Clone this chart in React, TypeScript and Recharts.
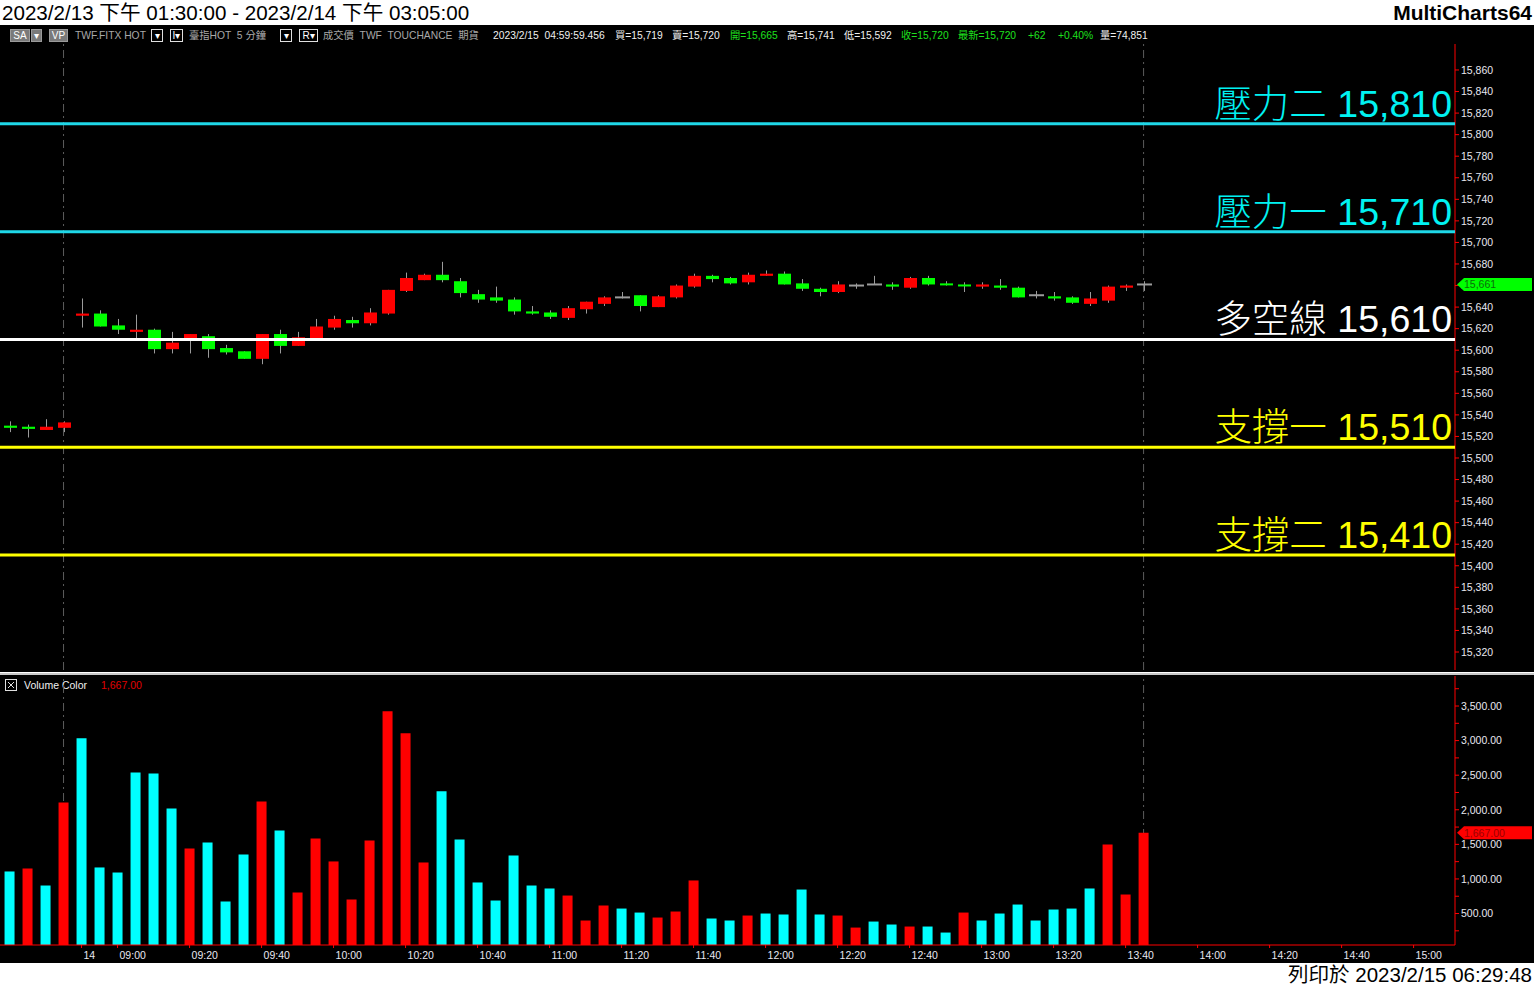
import React from "react";
import { Bar, Cell, ComposedChart, ReferenceLine, XAxis, YAxis } from "recharts";

// 5-minute bars: last four of the 2/13 night session, then the 2/14 day session
const barTimes = [
  "04:45", "04:50", "04:55", "05:00",
  "08:50", "08:55", "09:00", "09:05", "09:10", "09:15", "09:20", "09:25",
  "09:30", "09:35", "09:40", "09:45", "09:50", "09:55", "10:00", "10:05",
  "10:10", "10:15", "10:20", "10:25", "10:30", "10:35", "10:40", "10:45",
  "10:50", "10:55", "11:00", "11:05", "11:10", "11:15", "11:20", "11:25",
  "11:30", "11:35", "11:40", "11:45", "11:50", "11:55", "12:00", "12:05",
  "12:10", "12:15", "12:20", "12:25", "12:30", "12:35", "12:40", "12:45",
  "12:50", "12:55", "13:00", "13:05", "13:10", "13:15", "13:20", "13:25",
  "13:30", "13:35", "13:40", "13:45",
];

const opens = [
  15530, 15529, 15526, 15528, 15632, 15634, 15623, 15617, 15619, 15601,
  15610, 15613, 15602, 15599, 15592, 15615, 15604, 15611, 15621, 15628,
  15625, 15634, 15655, 15665, 15670, 15664, 15652, 15649, 15647, 15636,
  15635, 15630, 15638, 15643, 15649, 15651, 15640, 15649, 15659, 15669,
  15667, 15663, 15669, 15671, 15662, 15657, 15654, 15660, 15661, 15661,
  15658, 15667, 15662, 15661, 15659, 15660, 15658, 15651, 15650, 15649,
  15643, 15646, 15658, 15661,
];
const highs = [
  15534, 15531, 15536, 15534, 15648, 15637, 15629, 15633, 15620, 15617,
  15615, 15615, 15605, 15599, 15615, 15619, 15617, 15629, 15632, 15631,
  15639, 15656, 15672, 15671, 15682, 15667, 15656, 15659, 15649, 15641,
  15637, 15641, 15645, 15650, 15654, 15651, 15651, 15661, 15671, 15670,
  15668, 15672, 15674, 15673, 15666, 15658, 15664, 15662, 15669, 15663,
  15668, 15669, 15664, 15663, 15663, 15666, 15659, 15655, 15654, 15650,
  15654, 15660, 15661, 15664,
];
const lows = [
  15524, 15519, 15526, 15524, 15621, 15622, 15615, 15610, 15597, 15597,
  15597, 15593, 15596, 15592, 15587, 15597, 15604, 15611, 15619, 15621,
  15623, 15633, 15654, 15665, 15663, 15649, 15644, 15644, 15633, 15633,
  15629, 15628, 15634, 15641, 15648, 15636, 15640, 15648, 15658, 15663,
  15661, 15661, 15669, 15661, 15655, 15650, 15653, 15657, 15661, 15656,
  15657, 15660, 15660, 15654, 15657, 15656, 15649, 15648, 15646, 15643,
  15641, 15644, 15655, 15655,
];
const closes = [
  15528, 15527, 15529, 15533, 15634, 15622, 15619, 15619, 15601, 15607,
  15615, 15601, 15598, 15592, 15615, 15604, 15612, 15622, 15629, 15625,
  15635, 15656, 15667, 15670, 15665, 15653, 15647, 15646, 15636, 15634,
  15631, 15639, 15645, 15649, 15649, 15641, 15650, 15660, 15669, 15666,
  15662, 15670, 15671, 15661, 15657, 15654, 15661, 15660, 15661, 15659,
  15667, 15661, 15661, 15660, 15661, 15658, 15649, 15651, 15648, 15644,
  15648, 15659, 15660, 15661,
];

const volumes = [
  1108, 1151, 905, 2106, 3033, 1166, 1093, 2540, 2526, 2020,
  1441, 1527, 674, 1354, 2121, 1701, 804, 1585, 1253, 703,
  1556, 3423, 3105, 1238, 2266, 1571, 949, 688, 1339, 905,
  862, 760, 399, 616, 572, 514, 442, 529, 978, 428,
  399, 471, 500, 486, 847, 486, 471, 297, 384, 341,
  312, 312, 225, 514, 399, 500, 630, 399, 558, 572,
  862, 1499, 775, 1667,
];
// 1 = red (up) volume, 0 = cyan
const volumeUp = [
  0, 1, 0, 1, 0, 0, 0, 0, 0, 0,
  1, 0, 0, 0, 1, 0, 1, 1, 1, 1,
  1, 1, 1, 1, 0, 0, 0, 0, 0, 0,
  0, 1, 1, 1, 0, 0, 1, 1, 1, 0,
  0, 1, 0, 0, 0, 0, 1, 1, 0, 0,
  1, 0, 0, 1, 0, 0, 0, 0, 0, 0,
  0, 1, 1, 1,
];

const levelPrices = [15810, 15710, 15610, 15510, 15410];
const levelNames = ["壓力二", "壓力一", "多空線", "支撐一", "支撐二"];

const timeTickIndex = [4, 6, 10, 14, 18, 22, 26, 30, 34, 38, 42, 46, 50, 54, 58, 62, 66, 70, 74, 78];
const timeTickLabels = [
  "14", "09:00", "09:20", "09:40", "10:00", "10:20", "10:40", "11:00", "11:20", "11:40",
  "12:00", "12:20", "12:40", "13:00", "13:20", "13:40", "14:00", "14:20", "14:40", "15:00",
];

const priceTicks = [
  15320, 15340, 15360, 15380, 15400, 15420, 15440, 15460, 15480, 15500,
  15520, 15540, 15560, 15580, 15600, 15620, 15640, 15660, 15680, 15700,
  15720, 15740, 15760, 15780, 15800, 15820, 15840, 15860,
];
const volumeTicks = [250, 500, 750, 1000, 1250, 1500, 1750, 2000, 2250, 2500, 2750, 3000, 3250, 3500, 3750];

// session break and the last bar
const markerBars = [3, 63];

const RED = "#ff0000";
const GREEN = "#00ff00";
const CYAN = "#00ffff";
const WICK = "#9b9b9b";
const AXIS = "#ff0000";
const LABEL = "#e8e8f0";
const FONT = "'Liberation Sans', Arial, 'Noto Sans CJK TC', sans-serif";
const levelColors = ["#1fd8e8", "#1fd8e8", "#ffffff", "#ffff00", "#ffff00"];
const levelTextColors = ["#00f2f2", "#00f2f2", "#ffffff", "#ffff00", "#ffff00"];

const X_DOMAIN: [number, number] = [-0.53, 80.3];

const priceRows = barTimes.map((time, i) => ({
  i,
  time,
  open: opens[i],
  high: highs[i],
  low: lows[i],
  close: closes[i],
  range: [lows[i], highs[i]],
}));

const volumeRows = barTimes.map((time, i) => ({
  i,
  time,
  volume: volumes[i],
  up: volumeUp[i] === 1,
}));

const lastClose = closes[closes.length - 1];
const lastVolume = volumes[volumes.length - 1];

function Candle(props: any) {
  const { x, y, width, height, payload } = props;
  if (!payload || !Number.isFinite(x) || !Number.isFinite(y)) return <g />;
  const top = Math.min(y, y + height);
  const bottom = Math.max(y, y + height);
  const span = payload.high - payload.low;
  const k = span > 0 ? (bottom - top) / span : 0;
  const toY = (v: number) => top + (payload.high - v) * k;
  const cx = Math.round(x + width / 2);
  const yo = toY(payload.open);
  const yc = toY(payload.close);

  let body;
  if (payload.open === payload.close) {
    body = <line x1={cx - 7} x2={cx + 8} y1={yo} y2={yo} stroke={WICK} strokeWidth={2} />;
  } else {
    const up = payload.close > payload.open;
    const h = Math.max(Math.abs(yo - yc), 2);
    body = (
      <rect
        x={cx - 6}
        y={Math.min(yo, yc)}
        width={13}
        height={h}
        fill={up ? RED : GREEN}
      />
    );
  }

  return (
    <g>
      <line x1={cx + 0.5} x2={cx + 0.5} y1={top} y2={bottom} stroke={WICK} strokeWidth={1} />
      {body}
    </g>
  );
}

function LevelLabel(props: any) {
  const { viewBox, text, color } = props;
  if (!viewBox) return null;
  return (
    <text
      x={viewBox.x + viewBox.width - 3}
      y={viewBox.y - 7}
      textAnchor="end"
      fill={color}
      fontSize={37.5}
      fontWeight={300}
      fontFamily={FONT}
    >
      {text}
    </text>
  );
}

function AxisTag(props: any) {
  const { viewBox, text, fill, textColor } = props;
  if (!viewBox) return null;
  const x = viewBox.x + viewBox.width;
  const y = viewBox.y;
  const half = 6.5;
  const points = [
    [x + 2, y],
    [x + 9, y - half],
    [x + 77, y - half],
    [x + 77, y + half],
    [x + 9, y + half],
  ]
    .map(p => p.join(","))
    .join(" ");
  return (
    <g>
      <polygon points={points} fill={fill} />
      <text x={x + 9} y={y + 4} fill={textColor} fontSize={10.5} fontFamily={FONT}>
        {text}
      </text>
    </g>
  );
}

function TimeTick(props: any) {
  const { x, y, payload } = props;
  const idx = timeTickIndex.indexOf(payload.value);
  return (
    <text x={x + 2} y={y + 11} fill={LABEL} fontSize={10.5} fontFamily={FONT} textAnchor="start">
      {idx >= 0 ? timeTickLabels[idx] : ""}
    </text>
  );
}

function HeaderBox({ left, width, text, filled }: { left: number; width: number; text: string; filled?: boolean }) {
  return (
    <div
      style={{
        position: "absolute",
        left,
        top: 29,
        width,
        height: 13,
        boxSizing: "border-box",
        border: filled ? "1px solid #9a9a9a" : "1px solid #e0e0e0",
        background: filled ? "#7a7a7a" : "transparent",
        color: "#ffffff",
        fontSize: 10,
        lineHeight: "11px",
        textAlign: "center",
      }}
    >
      {text}
    </div>
  );
}

function HeaderText({ left, text, color }: { left: number; text: string; color: string }) {
  return (
    <div
      style={{
        position: "absolute",
        left,
        top: 29,
        height: 13,
        lineHeight: "13px",
        fontSize: 10.3,
        color,
        whiteSpace: "pre",
      }}
    >
      {text}
    </div>
  );
}

const GRAY_TXT = "#a8a8a8";
const WHITE_TXT = "#f0f0f0";
const GREEN_TXT = "#1ee01e";

export default function App() {
  return (
    <div
      style={{
        position: "absolute",
        left: 0,
        top: 0,
        width: 1534,
        height: 986,
        background: "#ffffff",
        fontFamily: FONT,
        overflow: "hidden",
      }}
    >
      {/* title bar */}
      <div style={{ position: "absolute", left: 2, top: 0, height: 25, lineHeight: "25px", fontSize: 20.6, color: "#000" }}>
        2023/2/13 下午 01:30:00 - 2023/2/14 下午 03:05:00
      </div>
      <div
        style={{
          position: "absolute",
          right: 2,
          top: 0,
          height: 25,
          lineHeight: "25px",
          fontSize: 21,
          fontWeight: 700,
          color: "#000",
        }}
      >
        MultiCharts64
      </div>

      {/* black chart area */}
      <div style={{ position: "absolute", left: 0, top: 25, width: 1534, height: 938, background: "#000" }} />

      {/* status line */}
      <HeaderBox left={10} width={20} text="SA" filled />
      <HeaderBox left={31} width={11} text="▾" filled />
      <HeaderBox left={49} width={19} text="VP" filled />
      <HeaderText left={75} text="TWF.FITX HOT" color={GRAY_TXT} />
      <HeaderBox left={151} width={12} text="▾" />
      <HeaderBox left={170} width={13} text="I▾" />
      <HeaderText left={189} text="臺指HOT  5 分鐘" color={GRAY_TXT} />
      <HeaderBox left={280} width={12} text="▾" />
      <HeaderBox left={299} width={19} text="R▾" />
      <HeaderText left={323} text="成交價  TWF  TOUCHANCE  期貨" color={GRAY_TXT} />
      <HeaderText left={493} text="2023/2/15  04:59:59.456" color={WHITE_TXT} />
      <HeaderText left={615} text="買=15,719" color={WHITE_TXT} />
      <HeaderText left={672} text="賣=15,720" color={WHITE_TXT} />
      <HeaderText left={730} text="開=15,665" color={GREEN_TXT} />
      <HeaderText left={787} text="高=15,741" color={WHITE_TXT} />
      <HeaderText left={844} text="低=15,592" color={WHITE_TXT} />
      <HeaderText left={901} text="收=15,720" color={GREEN_TXT} />
      <HeaderText left={958} text="最新=15,720" color={GREEN_TXT} />
      <HeaderText left={1028} text="+62" color={GREEN_TXT} />
      <HeaderText left={1058} text="+0.40%" color={GREEN_TXT} />
      <HeaderText left={1100} text="量=74,851" color={WHITE_TXT} />

      {/* price panel */}
      <div style={{ position: "absolute", left: 0, top: 25 }}>
        <ComposedChart
          width={1534}
          height={648}
          data={priceRows}
          margin={{ top: 19, right: 0, bottom: 3, left: 0 }}
        >
          <XAxis dataKey="i" type="number" domain={X_DOMAIN} hide allowDataOverflow />
          <YAxis
            orientation="right"
            width={79}
            domain={[15303.3, 15884.1]}
            ticks={priceTicks}
            interval={0}
            allowDataOverflow
            axisLine={{ stroke: AXIS }}
            tickLine={{ stroke: AXIS }}
            tickSize={4}
            tickMargin={2}
            tick={{ fill: LABEL, fontSize: 10.5, fontFamily: FONT }}
            tickFormatter={(v: number) => v.toLocaleString("en-US")}
          />
          {markerBars.map(b => (
            <ReferenceLine
              key={`m${b}`}
              x={b}
              stroke="#5c5c5c"
              strokeDasharray="8 4 2 4"
              zIndex={50}
            />
          ))}
          <Bar
            dataKey="range"
            barSize={13}
            isAnimationActive={false}
            shape={(p: any) => <Candle {...p} />}
          />
          {levelPrices.map((price, k) => (
            <ReferenceLine
              key={price}
              y={price}
              stroke={levelColors[k]}
              strokeWidth={3}
              zIndex={1500}
              label={
                <LevelLabel
                  text={`${levelNames[k]} ${price.toLocaleString("en-US")}`}
                  color={levelTextColors[k]}
                />
              }
            />
          ))}
          <ReferenceLine
            y={lastClose}
            stroke="none"
            zIndex={2600}
            label={
              <AxisTag text={lastClose.toLocaleString("en-US")} fill={GREEN} textColor="#0a6e0a" />
            }
          />
        </ComposedChart>
      </div>

      {/* panel separator */}
      <div style={{ position: "absolute", left: 0, top: 672, width: 1534, height: 3, background: "#c8c8c8", borderTop: "1px solid #ffffff", boxSizing: "border-box" }} />

      {/* volume legend */}
      <svg style={{ position: "absolute", left: 5, top: 679 }} width={12} height={12}>
        <rect x={0.5} y={0.5} width={11} height={11} fill="none" stroke="#e0e0e0" />
        <line x1={3} y1={3} x2={9} y2={9} stroke="#e0e0e0" />
        <line x1={9} y1={3} x2={3} y2={9} stroke="#e0e0e0" />
      </svg>
      <div style={{ position: "absolute", left: 24, top: 679, lineHeight: "13px", fontSize: 10.5, color: WHITE_TXT }}>
        Volume Color
      </div>
      <div style={{ position: "absolute", left: 101, top: 679, lineHeight: "13px", fontSize: 10.5, color: "#e00000" }}>
        {lastVolume.toLocaleString("en-US", { minimumFractionDigits: 2 })}
      </div>

      {/* volume panel */}
      <div style={{ position: "absolute", left: 0, top: 674 }}>
        <ComposedChart
          width={1534}
          height={289}
          data={volumeRows}
          margin={{ top: 2, right: 0, bottom: 0, left: 0 }}
        >
          <XAxis
            dataKey="i"
            type="number"
            domain={X_DOMAIN}
            allowDataOverflow
            ticks={timeTickIndex}
            interval={0}
            height={18}
            axisLine={{ stroke: AXIS }}
            tickLine={{ stroke: AXIS }}
            tickSize={3}
            tickMargin={0}
            tick={(p: any) => <TimeTick {...p} />}
          />
          <YAxis
            orientation="right"
            width={79}
            domain={[45, 3934]}
            ticks={volumeTicks}
            interval={0}
            allowDataOverflow
            axisLine={{ stroke: AXIS }}
            tickLine={{ stroke: AXIS }}
            tickSize={4}
            tickMargin={2}
            tick={{ fill: LABEL, fontSize: 10.5, fontFamily: FONT }}
            tickFormatter={(v: number) =>
              v % 500 === 0 ? v.toLocaleString("en-US", { minimumFractionDigits: 2 }) : ""
            }
          />
          {markerBars.map(b => (
            <ReferenceLine
              key={`v${b}`}
              x={b}
              stroke="#5c5c5c"
              strokeDasharray="8 4 2 4"
              zIndex={50}
            />
          ))}
          <Bar dataKey="volume" barSize={10} isAnimationActive={false}>
            {volumeRows.map(r => (
              <Cell key={r.i} fill={r.up ? RED : CYAN} />
            ))}
          </Bar>
          <ReferenceLine
            y={lastVolume}
            stroke="none"
            zIndex={2600}
            label={
              <AxisTag
                text={lastVolume.toLocaleString("en-US", { minimumFractionDigits: 2 })}
                fill={RED}
                textColor="#9a0000"
              />
            }
          />
        </ComposedChart>
      </div>

      {/* print footer */}
      <div
        style={{
          position: "absolute",
          right: 2,
          top: 963,
          height: 23,
          lineHeight: "23px",
          fontSize: 20.5,
          color: "#000",
        }}
      >
        列印於 2023/2/15 06:29:48
      </div>
    </div>
  );
}
